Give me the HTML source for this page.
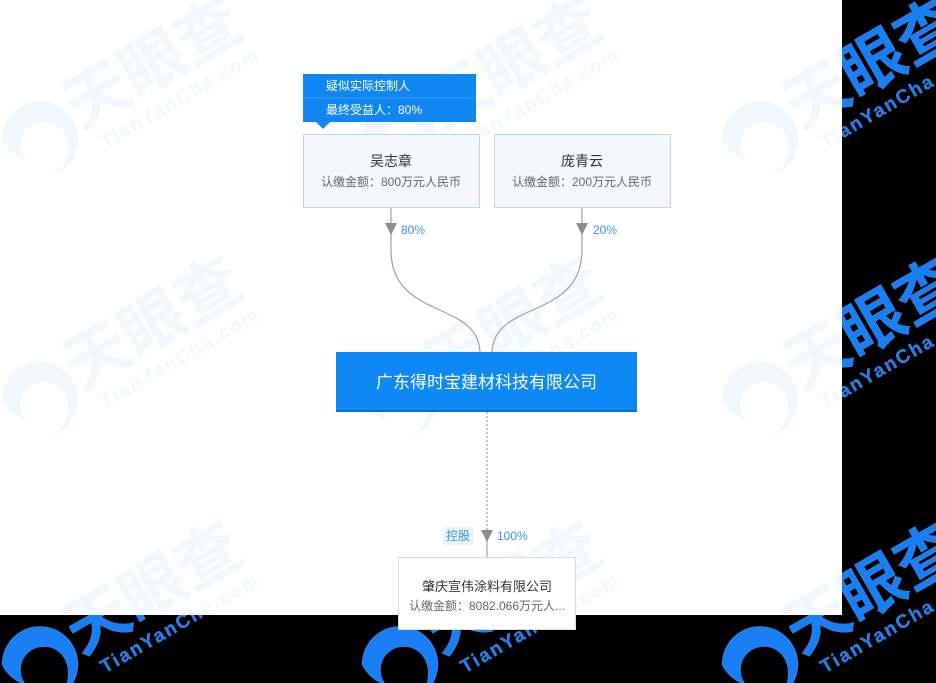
<!DOCTYPE html>
<html><head><meta charset="utf-8"><style>
html,body{margin:0;padding:0;background:#000;}
svg{display:block;}
text{font-family:"Liberation Sans","Noto Sans CJK SC",sans-serif;}
</style></head><body>
<svg width="936" height="683" viewBox="0 0 936 683" xmlns="http://www.w3.org/2000/svg">
<defs>
<g id="wm">
  <path d="M-38,0 A38,38 0 1,1 10,36 A30,30 0 0,0 22,-10 A22,22 0 1,0 -14,20 A40,40 0 0,1 -38,0 Z"/>
  <g transform="rotate(-30)">
    <text x="40" y="12" font-size="64" font-weight="bold">天眼查</text>
    <text x="52" y="40" font-size="19" font-weight="bold" letter-spacing="2">TianYanCha.com</text>
  </g>
</g>
<clipPath id="blk">
  <rect x="842" y="0" width="94" height="683"/>
  <rect x="0" y="615" width="936" height="68"/>
</clipPath>
</defs>
<rect x="0" y="0" width="936" height="683" fill="#000"/>
<rect x="0" y="0" width="842" height="615" fill="#fff"/>
<g fill="#f2f7fd">
  <use href="#wm" x="40" y="140"/><use href="#wm" x="400" y="140"/><use href="#wm" x="760" y="140"/>
  <use href="#wm" x="40" y="400"/><use href="#wm" x="400" y="400"/><use href="#wm" x="760" y="400"/>
  <use href="#wm" x="40" y="665"/><use href="#wm" x="400" y="665"/><use href="#wm" x="760" y="665"/>
</g>
<g fill="#1a7ff5" clip-path="url(#blk)">
  <use href="#wm" x="40" y="140"/><use href="#wm" x="400" y="140"/><use href="#wm" x="760" y="140"/>
  <use href="#wm" x="40" y="400"/><use href="#wm" x="400" y="400"/><use href="#wm" x="760" y="400"/>
  <use href="#wm" x="40" y="665"/><use href="#wm" x="400" y="665"/><use href="#wm" x="760" y="665"/>
</g>

<g fill="none" stroke="#a0a0a0" stroke-width="1.2">
  <path d="M391,208 L391,250 C391,320 478,300 480,352"/>
  <path d="M582,208 L582,250 C582,320 494,300 492,352"/>
  <path d="M487,412 L487,530" stroke-dasharray="2,2"/>
  <path d="M487,540 L487,557"/>
</g>
<g fill="#8c8c8c">
  <polygon points="385,223 397,223 391,235"/>
  <polygon points="576,223 588,223 582,235"/>
  <polygon points="481,530 493,530 487,542"/>
</g>
<text x="401" y="234" font-size="12" fill="#3a96e0">80%</text>
<text x="593" y="234" font-size="12" fill="#3a96e0">20%</text>
<rect x="443" y="527" width="30" height="18" fill="#e6f2fd"/>
<text x="458" y="540" font-size="12" fill="#3a96e0" text-anchor="middle">控股</text>
<text x="497" y="540" font-size="12" fill="#3a96e0">100%</text>

<rect x="303" y="74" width="173" height="48" fill="#0f86f2"/>
<line x1="303" y1="98" x2="476" y2="98" stroke="#3b9cf5" stroke-width="1"/>
<polygon points="316,122 330,122 323,129" fill="#0f86f2"/>
<text x="326" y="90" font-size="12" fill="#fff">疑似实际控制人</text>
<text x="326" y="114" font-size="12" fill="#fff">最终受益人：80%</text>

<rect x="303.5" y="134.5" width="176" height="73" fill="#f4f8fd" stroke="#b8d7f3"/>
<text x="391" y="166" font-size="14" fill="#333" text-anchor="middle">吴志章</text>
<text x="391" y="186" font-size="12" fill="#666" text-anchor="middle">认缴金额：800万元人民币</text>
<rect x="494.5" y="134.5" width="176" height="73" fill="#f4f8fd" stroke="#b8d7f3"/>
<text x="582" y="166" font-size="14" fill="#333" text-anchor="middle">庞青云</text>
<text x="582" y="186" font-size="12" fill="#666" text-anchor="middle">认缴金额：200万元人民币</text>

<rect x="336" y="352" width="301" height="60" fill="#0d88f5"/>
<rect x="336" y="410" width="301" height="2" fill="#0a6fd0"/>
<text x="486.5" y="388" font-size="17" fill="#fff" text-anchor="middle">广东得时宝建材科技有限公司</text>

<rect x="398.5" y="557.5" width="177" height="72" fill="#fff" stroke="#dcdcdc"/>
<text x="487" y="591" font-size="13" fill="#333" text-anchor="middle">肇庆宣伟涂料有限公司</text>
<text x="487" y="610" font-size="12" fill="#666" text-anchor="middle">认缴金额：8082.066万元人...</text>
</svg>
</body></html>
